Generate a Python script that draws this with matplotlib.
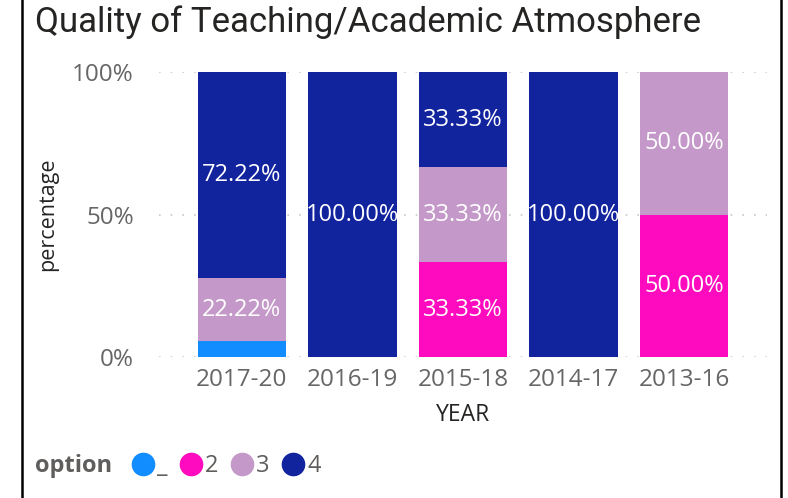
import matplotlib.pyplot as plt
from matplotlib.lines import Line2D
import numpy as np

years = ['2017-20', '2016-19', '2015-18', '2014-17', '2013-16']
options = ['_', '2', '3', '4']
vals = {
    '_': [5.56, 0, 0, 0, 0],
    '2': [0, 0, 33.33, 0, 50.00],
    '3': [22.22, 0, 33.33, 0, 50.00],
    '4': [72.22, 100.00, 33.33, 100.00, 0],
}
colors = {'_': '#118DFF', '2': '#FF0BBF', '3': '#C499C9', '4': '#12239E'}

plt.rcParams['font.family'] = ['Open Sans', 'DejaVu Sans']

fig = plt.figure(figsize=(7.88, 4.98), dpi=100)
ax = fig.add_axes([0.2018, 0.2831, 0.7716, 0.5723])

x = np.arange(len(years))
bottom = np.zeros(len(years))
for opt in options:
    v = np.array(vals[opt])
    ax.bar(x, v, 0.8, bottom=bottom, color=colors[opt], zorder=2)
    for xi, b, h in zip(x, bottom, v):
        if h >= 10:
            ax.text(xi, b + h / 2, f'{h:.2f}%', ha='center', va='center',
                    color='white', fontsize=17)
    bottom += v

ax.set_xlim(-0.75, 4.75)
ax.set_ylim(0, 100)
ax.set_yticks([0, 50, 100])
ax.set_yticklabels(['0%', '50%', '100%'])
ax.set_xticks(x)
ax.set_xticklabels(years)
ax.tick_params(length=0, labelsize=17.5, labelcolor='#666666', pad=8)
ax.tick_params(axis='y', pad=18)
ax.grid(axis='y', color='#c8c8c8', linestyle=(0, (1, 6)), linewidth=1.2, zorder=0)
for s in ax.spines.values():
    s.set_visible(False)
ax.set_xlabel('YEAR', fontsize=16.5, color='#252423', labelpad=8)
ax.set_ylabel('percentage', fontsize=15.5, color='#252423', labelpad=10)

fig.text(0.044, 0.955, 'Quality of Teaching/Academic Atmosphere', fontsize=25,
         color='#252423', va='center', ha='left', family=['Roboto', 'DejaVu Sans'])

fig.text(0.044, 0.064, 'option', fontsize=17, fontweight='bold', color='#605E5C',
         va='center', ha='left')
handles = [Line2D([], [], marker='o', linestyle='', markersize=16,
                  markerfacecolor=colors[o], markeredgecolor=colors[o]) for o in options]
fig.legend(handles, options, loc='center left', bbox_to_anchor=(0.166, 0.064),
           ncol=4, frameon=False, fontsize=17, handletextpad=0.1,
           columnspacing=0.5, handlelength=1.0, labelcolor='#605E5C', borderaxespad=0,
           borderpad=0)

for xp in [22 / 788, 781 / 788]:
    fig.add_artist(Line2D([xp, xp], [0, 1], color='black', linewidth=1.8,
                          transform=fig.transFigure))

fig.savefig('out.png', dpi=100)
